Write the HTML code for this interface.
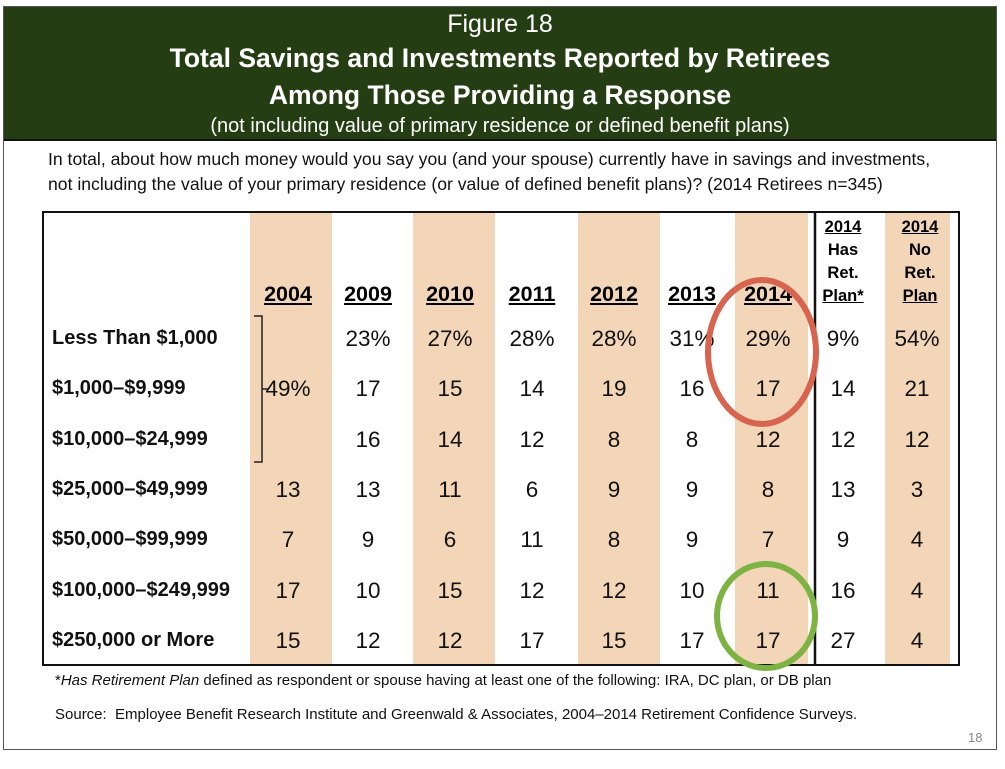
<!DOCTYPE html>
<html><head><meta charset="utf-8">
<style>
html,body{margin:0;padding:0;background:#fff;}
body{width:1005px;height:769px;position:relative;overflow:hidden;font-family:"Liberation Sans Narrow","Liberation Sans",sans-serif;}
.abs{position:absolute;}
#frame{left:3px;top:6px;width:994px;height:744px;border:1px solid #555;box-sizing:border-box;}
#header{left:4px;top:7px;width:992px;height:132px;background:#243d12;border-bottom:2px solid #111;color:#fff;text-align:center;font-weight:bold;}
.hl{position:absolute;left:0;width:100%;}
#q{left:48px;top:147px;font-size:17.6px;line-height:25px;color:#111;white-space:nowrap;}
#tbl{left:42px;top:211px;width:918px;height:455px;border:2px solid #111;box-sizing:border-box;}
.shade{background:#f3d5b8;top:213px;height:451px;}
.num{font-size:22.5px;text-align:center;width:80px;margin-left:-40px;color:#111;}
.yr{font-size:21.5px;font-weight:bold;text-decoration:underline;text-align:center;width:80px;margin-left:-40px;}
.rl{left:52px;font-size:20px;font-weight:bold;color:#111;white-space:nowrap;}
.sm{font-size:16.5px;font-weight:bold;text-align:center;width:70px;margin-left:-35px;line-height:23px;}
.foot{left:55px;font-size:15px;color:#111;white-space:nowrap;}
</style></head><body>
<div id="frame" class="abs"></div>
<div id="header" class="abs">
  <div class="hl" style="top:3px;font-size:25px;font-weight:normal">Figure 18</div>
  <div class="hl" style="top:36px;font-size:26.5px">Total Savings and Investments Reported by Retirees</div>
  <div class="hl" style="top:73px;font-size:26.5px">Among Those Providing a Response</div>
  <div class="hl" style="top:108px;font-size:20px;font-weight:normal">(not including value of primary residence or defined benefit plans)</div>
</div>
<div id="q" class="abs">In total, about how much money would you say you (and your spouse) currently have in savings and investments,<br>not including the value of your primary residence (or value of defined benefit plans)? (2014 Retirees n=345)</div>
<div id="tbl" class="abs"></div>
<div id="layer"></div>
<svg class="abs" style="left:0;top:0" width="1005" height="769">
  <line x1="815" y1="212" x2="815" y2="665" stroke="#111" stroke-width="2.5"/>
  <path d="M254 316 H262 V462 H254 M262 389 H268" fill="none" stroke="#222" stroke-width="1.5"/>
  <ellipse cx="762" cy="352" rx="54" ry="72" fill="none" stroke="#d8634f" stroke-width="6"/>
  <ellipse cx="766" cy="616" rx="49" ry="52" fill="none" stroke="#7cb342" stroke-width="6"/>
</svg>
<div class="abs foot" style="top:672px">*<i>Has Retirement Plan</i> defined as respondent or spouse having at least one of the following: IRA, DC plan, or DB plan</div>
<div class="abs foot" style="top:706px">Source:&nbsp; Employee Benefit Research Institute and Greenwald &amp; Associates, 2004–2014 Retirement Confidence Surveys.</div>
<div class="abs" style="left:968px;top:730px;font-size:13px;color:#888">18</div>
<script>
const columns = ["2004","2009","2010","2011","2012","2013","2014","has","no"];
const rowLabels = ["Less Than $1,000","$1,000–$9,999","$10,000–$24,999","$25,000–$49,999","$50,000–$99,999","$100,000–$249,999","$250,000 or More"];
const col2004 = ["","49%","",13,7,17,15];
const col2009 = ["23%",17,16,13,9,10,12];
const col2010 = ["27%",15,14,11,6,15,12];
const col2011 = ["28%",14,12,6,11,12,17];
const col2012 = ["28%",19,8,9,8,12,15];
const col2013 = ["31%",16,8,9,9,10,17];
const col2014 = ["29%",17,12,8,7,11,17];
const colHas = ["9%",14,12,13,9,16,27];
const colNo = ["54%",21,12,3,4,4,4];
const series = [col2004,col2009,col2010,col2011,col2012,col2013,col2014,colHas,colNo];
const colX = [288,368,450,532,614,692,768,843,917];
const shadeSpans = [[250,332],[413,495],[578,660],[735,808],[885,950]];
const rowY0 = 339, rowStep = 50.3;
const layer = document.getElementById('layer');
function mk(cls, style, text){
  const d=document.createElement('div');
  d.className='abs '+cls; d.style.cssText=style; if(text!==undefined) d.textContent=text;
  layer.appendChild(d); return d;
}
shadeSpans.forEach(s=>{
  const d=mk('shade','left:'+s[0]+'px;width:'+(s[1]-s[0])+'px;');
  
  
});
for(let i=0;i<7;i++){
  const d=mk('yr','left:'+colX[i]+'px;top:282px;',columns[i]);
  
  
}
const h1=mk('sm','left:843px;top:216px;','');
h1.innerHTML='<u>2014</u><br>Has<br>Ret.<br><u>Plan*</u>';


const h2=mk('sm','left:920px;top:216px;','');
h2.innerHTML='<u>2014</u><br>No<br>Ret.<br><u>Plan</u>';


rowLabels.forEach((lab,r)=>{
  const y=rowY0+r*rowStep;
  const d=mk('rl','top:'+(y-12)+'px;',lab);
  
  
  series.forEach((s,c)=>{
    const v=s[r]; if(v==="") return;
    const n=mk('num','left:'+colX[c]+'px;top:'+(y-13)+'px;',String(v));
    
    
  });
});
</script>
</body></html>
